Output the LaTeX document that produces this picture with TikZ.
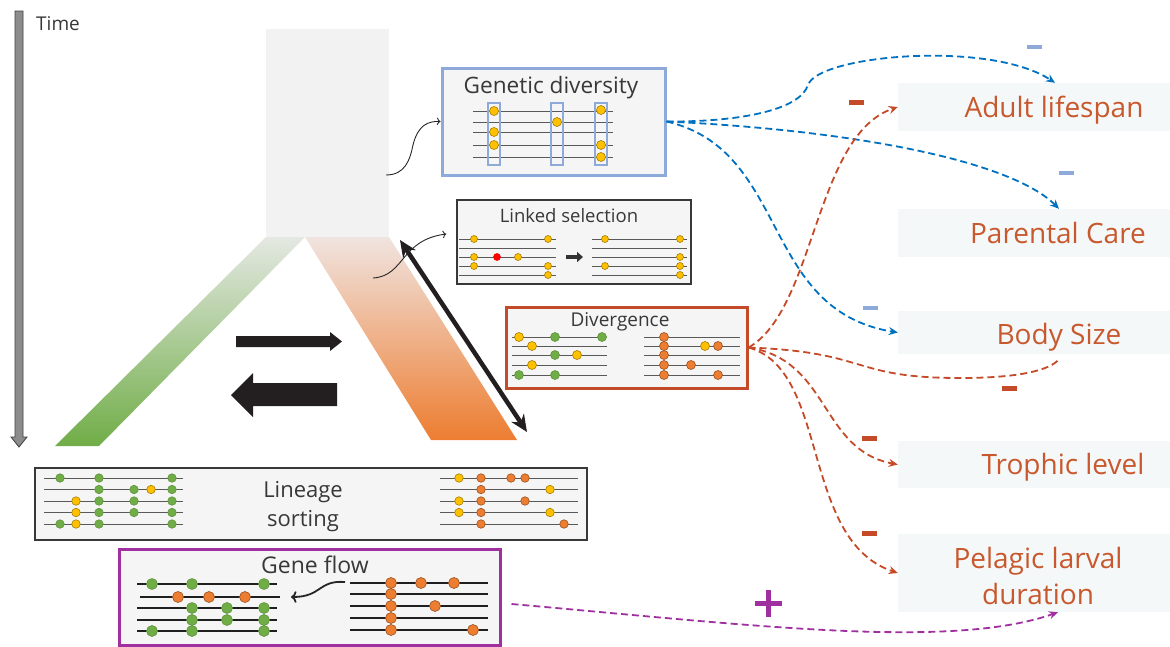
\documentclass[tikz,border=0pt]{standalone}
\usepackage{fontspec}
\setmainfont{Open Sans}
\usetikzlibrary{positioning,arrows.meta,calc}

\definecolor{gdblue}{RGB}{142,170,219}
\definecolor{linkblue}{RGB}{0,112,192}
\definecolor{divred}{RGB}{197,74,40}
\definecolor{traitred}{RGB}{200,88,45}
\definecolor{flowpurple}{RGB}{160,48,160}
\definecolor{dotyellow}{RGB}{255,192,0}
\definecolor{dotgreen}{RGB}{112,173,71}
\definecolor{dotorange}{RGB}{237,125,49}
\definecolor{boxgray}{RGB}{245,245,245}
\definecolor{traitgray}{RGB}{245,248,248}
\definecolor{ancgray}{RGB}{242,242,242}
\definecolor{greentop}{RGB}{228,232,226}
\definecolor{orangetop}{RGB}{240,228,224}
\definecolor{arrowblack}{RGB}{35,31,32}

\tikzset{
    panel/.style={draw, fill=boxgray, inner sep=0pt},
    title/.style={anchor=base, inner sep=0pt, text=black!78, font=\fontsize{#1}{#1}\selectfont},
    strand/.style={draw=black!65, line width=1pt},
    thickstrand/.style={draw=black!88, line width=2.8pt},
    snp/.style={circle, inner sep=0pt, minimum size=#1, line width=0.6pt},
    ydot/.style={fill=dotyellow, draw=dotyellow!65!black},
    gdot/.style={fill=dotgreen, draw=dotgreen!85!black},
    odot/.style={fill=dotorange, draw=dotorange!65!black},
    rdot/.style={fill=red, draw=red},
    trait/.style={fill=traitgray, inner sep=0pt, minimum width=272pt},
    traitname/.style={inner sep=0pt, text=traitred, font=\fontsize{28}{36}\selectfont, align=center},
    effect/.style={dash pattern=on 7pt off 4pt, line width=1.8pt, -{Stealth[length=9pt,width=8pt]}},
    sign/.style={rectangle, inner sep=0pt, minimum width=15pt, minimum height=#1},
    pointer/.style={->, line width=0.9pt, black!85},
}

\begin{document}
\begin{tikzpicture}[x=1pt, y=-1pt]
\useasboundingbox (0,0) rectangle (1170,646);

\draw[fill=black!45, draw=black!75, line width=0.8pt] (15,11) -- (23,11) -- (23,437) -- (27,437) -- (19,447) -- (11,437) -- (15,437) -- cycle;
\node[title=19, anchor=base west] (time) at (36,30) {Time};

\node[fill=ancgray, inner sep=0pt, minimum width=123pt, minimum height=208pt] (anc) at (327.5,133) {};
\shade[top color=greentop, bottom color=dotgreen] (anc.south west) -- (305,237) -- (99,446) -- (55,446) -- cycle;
\shade[top color=orangetop, bottom color=dotorange] (305,237) -- (anc.south east) -- (517,440) -- (431,440) -- cycle;

\fill[arrowblack] (236,336) -- (330,336) -- (330,332) -- (342,341.5) -- (330,351) -- (330,347) -- (236,347) -- cycle;
\fill[arrowblack] (337,383) -- (253,383) -- (253,373) -- (231,395) -- (253,417) -- (253,406) -- (337,406) -- cycle;

\coordinate (lenA) at (400,240);
\coordinate (lenB) at (527,432);
\draw[{Stealth[length=17pt,width=15pt]}-{Stealth[length=17pt,width=15pt]}, line width=4.5pt, arrowblack] (lenA) -- (lenB);

% genetic diversity
\node[panel, draw=gdblue, line width=3pt, minimum width=223pt, minimum height=107pt] (gdiv) at (553.5,121.5) {};
\node[title=22.6] at (551,93) {Genetic diversity};
\foreach \y in {111,122,132,145,157} \draw[strand] (473,\y) -- (613,\y);
\foreach \x in {494,557,601} \draw[gdblue, line width=1.2pt] (\x-6,103) rectangle (\x+6,165);
\foreach \x/\y in {494/111,494/132,494/145,557/122,601/110,601/145,601/157}
    \node[snp=9pt, ydot] at (\x,\y) {};

% linked selection
\node[panel, draw=black!78, line width=1.5pt, minimum width=234pt, minimum height=84pt] (linked) at (574,242) {};
\node[title=18.5] at (569,222) {Linked selection};
\foreach \y in {239,248,257,266,275} \draw[strand] (459,\y) -- (556,\y) (592,\y) -- (687,\y);
\foreach \x/\y/\c in {474/239/ydot,548/239/ydot,474/257/ydot,497/257/rdot,518/257/ydot,474/266/ydot,548/266/ydot,548/275/ydot,
    605/239/ydot,680/239/ydot,680/257/ydot,605/266/ydot,680/266/ydot,680/275/ydot}
    \node[snp=7pt, \c] at (\x,\y) {};
\draw[-{Triangle[length=6pt,width=10pt]}, line width=3.5pt, black!80] (566,257) -- (583,257);

% divergence
\node[panel, draw=divred, line width=3pt, minimum width=241pt, minimum height=81pt] (div) at (626.5,347.5) {};
\node[title=19] at (620,326) {Divergence};
\foreach \y in {337,346,355,365,375} \draw[strand] (512,\y) -- (607,\y) (644,\y) -- (740,\y);
\foreach \x/\y/\c in {519/337/ydot,555/337/gdot,602/337/gdot,532/346/ydot,555/355/gdot,577/355/ydot,532/365/ydot,519/375/gdot,555/375/gdot,
    664/337/odot,664/346/odot,705/346/ydot,718/346/odot,664/355/odot,664/365/odot,691/365/odot,664/375/odot,718/375/odot}
    \node[snp=9pt, \c] at (\x,\y) {};

% lineage sorting
\node[panel, draw=black!78, line width=1.5pt, minimum width=552pt, minimum height=72pt] (sort) at (311,504) {};
\node[title=22, anchor=center, font=\fontsize{22}{29}\selectfont, align=center] at (303,507) {Lineage\\sorting};
\foreach \y in {478,489.5,501,512.5,524} \draw[strand] (44,\y) -- (183,\y) (440,\y) -- (578,\y);
\foreach \x/\y/\c in {60/478/gdot,99/478/gdot,172/478/gdot,
    99/489.5/gdot,134/489.5/gdot,151/489.5/ydot,172/489.5/gdot,
    76/501/ydot,99/501/gdot,134/501/gdot,172/501/gdot,
    76/512.5/ydot,99/512.5/gdot,134/512.5/gdot,172/512.5/gdot,
    60/524/gdot,76/524/ydot,99/524/gdot,172/524/gdot,
    459/478/ydot,481/478/odot,511/478/odot,525/478/odot,
    481/489.5/odot,550/489.5/ydot,
    459/501/ydot,481/501/odot,525/501/odot,
    459/512.5/ydot,481/512.5/odot,550/512.5/ydot,
    481/524/odot,564/524/odot}
    \node[snp=8.5pt, \c] at (\x,\y) {};

% gene flow
\node[panel, draw=flowpurple, line width=3pt, minimum width=381pt, minimum height=96pt] (flow) at (309.5,597) {};
\node[title=23] at (315,573) {Gene flow};
\foreach \y/\s in {584/137,597/140,608/137,620/137,631/137} \draw[thickstrand] (\s,\y) -- (\s+140,\y);
\foreach \y in {583,594,606,618,630} \draw[thickstrand] (350,\y) -- (488,\y);
\foreach \x/\y/\c in {152/584/gdot,192/584/gdot,264/584/gdot,
    178/597/odot,209/597/odot,245/597/odot,
    192/608/gdot,227/608/gdot,264/608/gdot,
    192/620/gdot,227/620/gdot,264/620/gdot,
    152/631/gdot,192/631/gdot,264/631/gdot,
    391/583/odot,421/583/odot,454/583/odot,391/594/odot,391/606/odot,435/606/odot,391/618/odot,391/630/odot,473/630/odot}
    \node[snp=11pt, \c] at (\x,\y) {};
\draw[->, line width=1.8pt, black!85] (345,582) .. controls (318,580) and (322,597) .. (291,597);

\coordinate (ancout) at (386,175);
\coordinate (orgout) at (373,278);
\draw[pointer] (ancout) .. controls (405,175) and (410,160) .. (413,145) .. controls (418,125) and (428,121) .. (gdiv.west);
\draw[pointer] (orgout) .. controls (405,276) and (400,240) .. ([xshift=-10pt,yshift=8pt]linked.west);

% traits
\node[trait, minimum height=48pt] (adult) at (1034,107) {};
\node[traitname, anchor=base] at (1054,117) {Adult lifespan};
\node[trait, minimum height=48pt] (care) at (1034,233) {};
\node[traitname, anchor=base] at (1058,243) {Parental Care};
\node[trait, minimum height=43pt] (size) at (1034,332.5) {};
\node[traitname, anchor=base] at (1059,344) {Body Size};
\node[trait, minimum height=47pt] (troph) at (1034,464.5) {};
\node[traitname, anchor=base] at (1063,474) {Trophic level};
\node[trait, minimum height=78pt] (pld) at (1034,573) {};
\node[traitname] at (1038,576) {Pelagic larval\\duration};

\draw[effect, linkblue] (gdiv.east) .. controls (740,122) and (800,110) .. (808,85) .. controls (818,55) and (990,40) .. ([xshift=21pt]adult.north);
\draw[effect, linkblue] (gdiv.east) .. controls (850,130) and (1010,160) .. ([xshift=25pt]care.north);
\draw[effect, linkblue] (gdiv.east) .. controls (790,150) and (760,310) .. (size.west);
\draw[effect, divred] (div.east) .. controls (815,310) and (815,135) .. (adult.west);
\draw[effect, divred, -] (div.east) .. controls (870,352) and (850,378) .. (960,378) .. controls (1020,378) and (1050,370) .. ([xshift=25pt,yshift=-5pt]size.south);
\draw[effect, divred] (div.east) .. controls (830,360) and (820,450) .. (troph.west);
\draw[effect, divred] (div.east) .. controls (830,370) and (800,540) .. (pld.west);
\draw[effect, flowpurple] ([xshift=10pt,yshift=-7pt]flow.east) .. controls (750,625) and (950,650) .. ([xshift=24pt]pld.south);

\node[sign=4pt, fill=gdblue] at (1034,47) {};
\node[sign=4pt, fill=gdblue] at (1066,173) {};
\node[sign=4pt, fill=gdblue] at (870,308) {};
\node[sign=5pt, fill=divred] at (856,102) {};
\node[sign=5pt, fill=divred] at (1009,388) {};
\node[sign=5pt, fill=divred] at (869,438) {};
\node[sign=5pt, fill=divred] at (869,533) {};
\draw[flowpurple, line width=5pt] (755,603) -- (782,603) (768.5,590) -- (768.5,617);
\end{tikzpicture}
\end{document}
